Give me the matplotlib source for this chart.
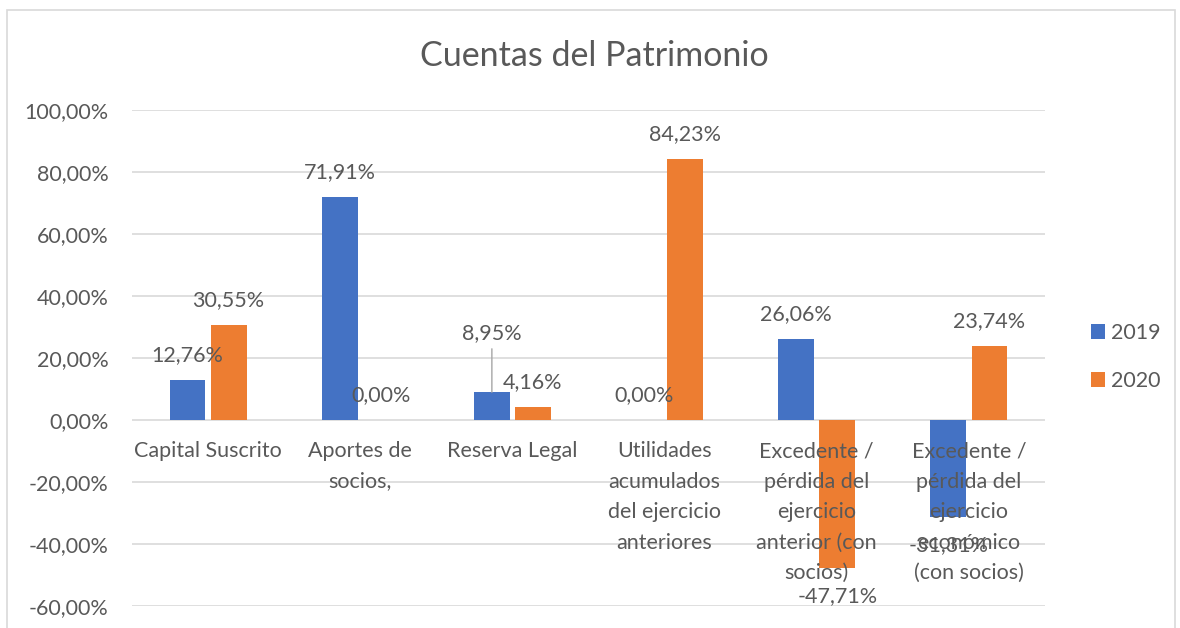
import numpy as np
import matplotlib.pyplot as plt
from matplotlib.patches import Rectangle

categories = ["Capital Suscrito", "Aportes de\nsocios,", "Reserva Legal",
              "Utilidades\nacumulados\ndel ejercicio\nanteriores",
              "Excedente /\npérdida del\nejercicio\nanterior (con\nsocios)",
              "Excedente /\npérdida del\nejercicio\neconómico\n(con socios)"]
v2019 = [12.76, 71.91, 8.95, 0.00, 26.06, -31.31]
v2020 = [30.55, 0.00, 4.16, 84.23, -47.71, 23.74]
yticks = [-60, -40, -20, 0, 20, 40, 60, 80, 100]

blue = '#4472c4'
orange = '#ed7d31'
txt = '#595959'
grid = '#d9d9d9'
fs = 15.5

plt.rcParams['font.family'] = ['Lato', 'DejaVu Sans']

fig = plt.figure(figsize=(11.8, 6.28), dpi=100)
fig.patches.append(Rectangle((7 / 1180, -0.1), 1168 / 1180, 1.1 - 10 / 628,
                             transform=fig.transFigure, fill=False,
                             edgecolor=grid, lw=1.2))

ax = fig.add_axes([132 / 1180, 1 - 606 / 628, 913 / 1180, 496 / 628])
x = np.arange(len(categories))
w = 0.235
off = 0.135
b1 = ax.bar(x - off, v2019, w, color=blue, label='2019', zorder=3)
b2 = ax.bar(x + off, v2020, w, color=orange, label='2020', zorder=3)

ax.set_xlim(-0.5, len(categories) - 0.5)
ax.set_ylim(-60, 100)
ax.set_yticks(yticks)
ax.set_yticklabels([f"{t:.2f}".replace('.', ',') + '%' for t in yticks])
ax.yaxis.grid(True, color=grid, lw=1.2, zorder=0)
ax.set_xticks([])
for s in ax.spines.values():
    s.set_visible(False)
ax.tick_params(axis='y', length=0, labelsize=fs, labelcolor=txt, pad=17)


def fmt(v):
    return f"{v:.2f}".replace('.', ',') + '%'


for xs, vals in ((x - off, v2019), (x + off, v2020)):
    for xi, v in zip(xs, vals):
        if abs(v - 8.95) < 1e-9:
            ax.annotate(fmt(v), (xi, v), xytext=(0, 59), textcoords='offset pixels',
                        ha='center', va='center', fontsize=fs, color=txt, zorder=5,
                        arrowprops=dict(arrowstyle='-', color='#a6a6a6', lw=1,
                                        shrinkA=2, shrinkB=0))
        elif v < 0:
            ax.annotate(fmt(v), (xi, v), xytext=(0, -28), textcoords='offset pixels',
                        ha='center', va='center', fontsize=fs, color=txt, zorder=5)
        else:
            ax.annotate(fmt(v), (xi, v), xytext=(0, 25), textcoords='offset pixels',
                        ha='center', va='center', fontsize=fs, color=txt, zorder=5)

for xi, lab in zip(x, categories):
    ax.annotate(lab, (xi, 0), xytext=(0, -21), textcoords='offset pixels',
                ha='center', va='top', fontsize=fs, color=txt,
                linespacing=1.66, zorder=6)

fig.text(594 / 1180, 1 - 56 / 628, 'Cuentas del Patrimonio', ha='center',
         va='center', fontsize=24.5, color=txt)

fig.legend(handles=[b1, b2], loc='center left',
           bbox_to_anchor=(1072 / 1180, 1 - 357 / 628), frameon=False,
           fontsize=fs, labelcolor=txt, handlelength=0.65, handleheight=0.65,
           handletextpad=0.25, labelspacing=1.3)

fig.savefig('out.png', dpi=100)
